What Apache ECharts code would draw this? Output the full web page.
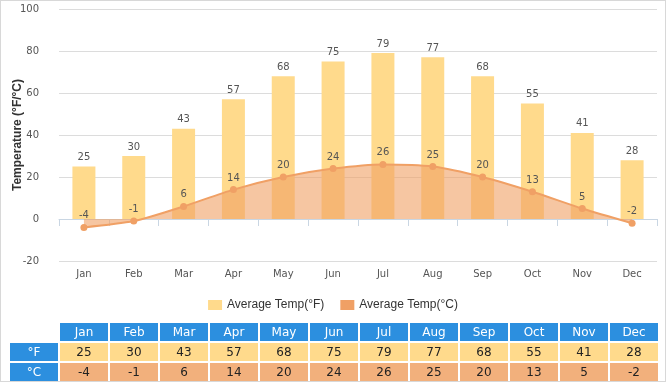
<!DOCTYPE html>
<html><head><meta charset="utf-8">
<script src="https://cdn.jsdelivr.net/npm/echarts@6/dist/echarts.min.js"></script>
<style>
html,body{margin:0;padding:0;background:#fff;}
#wrap{position:relative;width:666px;height:382px;box-sizing:border-box;border:1px solid #d8d8d8;overflow:hidden;}
#chart{position:absolute;left:0;top:0;width:664px;height:380px;}
#tbl{position:absolute;left:7px;top:320px;border-collapse:separate;border-spacing:2px;font-family:"DejaVu Sans",Verdana,sans-serif;font-size:12px;}
#tbl td{height:18px;padding:0;text-align:center;color:#222;}
#tbl td.h{background:#2c8fdf;color:#fff;}
#tbl td.f{background:#ffda8c;}
#tbl td.c{background:#f2b07c;}
</style></head>
<body><div id="wrap"><div id="chart"></div><table id="tbl"></table></div>
<script>
var months = ['Jan','Feb','Mar','Apr','May','Jun','Jul','Aug','Sep','Oct','Nov','Dec'];
var tempF = [25,30,43,57,68,75,79,77,68,55,41,28];
var tempC = [-4,-1,6,14,20,24,26,25,20,13,5,-2];
var rowLabels = ['°F','°C'];

var chart = echarts.init(document.getElementById('chart'));
var font = '"DejaVu Sans", Verdana, sans-serif';
chart.setOption({
  animation:false,
  grid:{left:58,right:8,top:8,bottom:120,containLabel:false,outerBoundsMode:'none'},
  legend:{
    top:293,left:'center',itemWidth:14,itemHeight:10,itemGap:16,
    textStyle:{fontFamily:'"Liberation Sans", Arial, sans-serif',fontSize:12,color:'#333'},
    data:[{name:'Average Temp(°F)',icon:'rect'},{name:'Average Temp(°C)',icon:'rect'}]
  },
  xAxis:{
    type:'category',data:months,
    axisLine:{lineStyle:{color:'#c9d6e3'}},
    axisTick:{show:true,length:7,lineStyle:{color:'#c9d6e3'}},
    axisLabel:{color:'#555',fontSize:10,fontFamily:font,margin:8}
  },
  yAxis:{
    type:'value',min:-20,max:100,interval:20,
    name:'Temperature (°F/°C)',nameLocation:'middle',nameGap:35,nameMoveOverlap:false,
    nameTextStyle:{fontFamily:'"Liberation Sans", Arial, sans-serif',fontWeight:'bold',fontSize:12,color:'#333'},
    axisLabel:{color:'#555',fontSize:10,fontFamily:font,margin:20},
    splitLine:{lineStyle:{color:'#dcdcdc'}},
    axisLine:{show:false},axisTick:{show:false}
  },
  series:[
    {name:'Average Temp(°F)',type:'bar',data:tempF,barWidth:23,
     itemStyle:{color:'#ffda8c'},
     label:{show:true,position:'top',color:'#555',fontSize:10,fontFamily:font,distance:4}},
    {name:'Average Temp(°C)',type:'line',data:tempC,smooth:0.25,
     symbol:'circle',symbolSize:7,
     itemStyle:{color:'#f0a065'},
     lineStyle:{color:'#f0a065',width:2},
     areaStyle:{color:'rgba(240,160,100,0.6)',opacity:1},
     label:{show:true,position:'top',color:'#555',fontSize:10,fontFamily:font,distance:3}}
  ]
});

// table
var tbl = document.getElementById('tbl');
var html = '<tr><td style="width:48px"></td>';
months.forEach(function(m){html += '<td class="h" style="width:48px">'+m+'</td>';});
html += '</tr><tr><td class="h">'+rowLabels[0]+'</td>';
tempF.forEach(function(v){html += '<td class="f">'+v+'</td>';});
html += '</tr><tr><td class="h">'+rowLabels[1]+'</td>';
tempC.forEach(function(v){html += '<td class="c">'+v+'</td>';});
html += '</tr>';
tbl.innerHTML = html;
</script></body></html>
